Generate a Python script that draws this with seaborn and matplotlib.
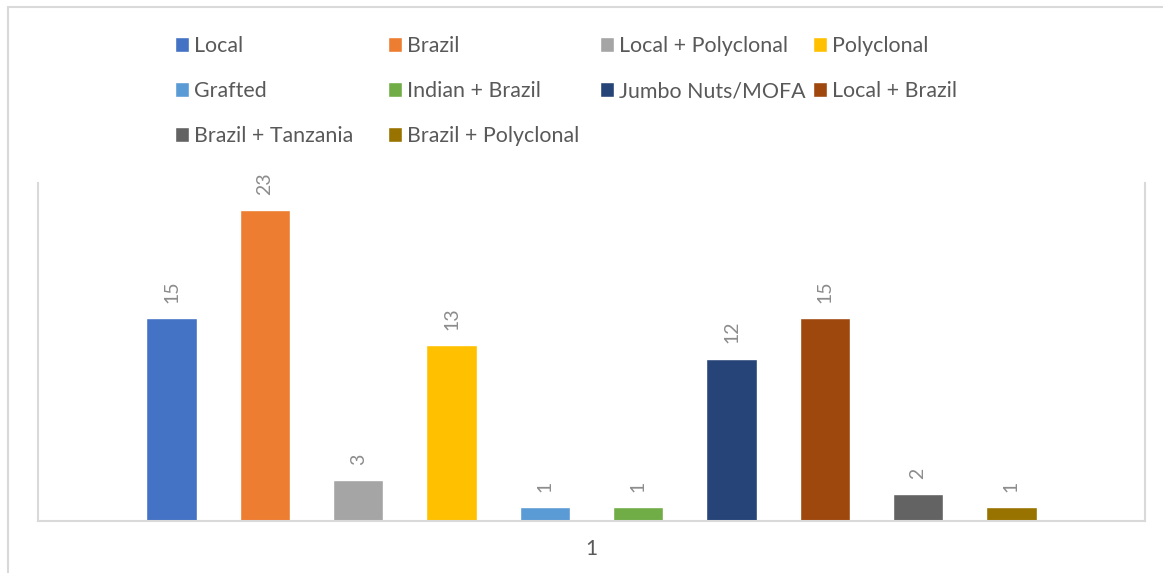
import matplotlib
matplotlib.use("Agg")
import matplotlib.pyplot as plt
from matplotlib.lines import Line2D
import seaborn as sns
import pandas as pd

# Cashew planting material used by respondents (count of farmers)
varieties = ["Local", "Brazil", "Local + Polyclonal", "Polyclonal", "Grafted",
             "Indian + Brazil", "Jumbo Nuts/MOFA", "Local + Brazil",
             "Brazil + Tanzania", "Brazil + Polyclonal"]
counts = [15, 23, 3, 13, 1, 1, 12, 15, 2, 1]
category = "1"
colors = ["#4472C4", "#ED7D31", "#A5A5A5", "#FFC000", "#5B9BD5",
          "#70AD47", "#264478", "#9E480E", "#636363", "#997300"]

W, H, DPI = 1163, 573, 100
sns.set_theme(style="white")
plt.rcParams["font.family"] = ["Lato", "DejaVu Sans"]

df = pd.DataFrame({"group": [category] * len(varieties),
                   "variety": varieties, "count": counts})

fig = plt.figure(figsize=(W / DPI, H / DPI), dpi=DPI)
ax = fig.add_axes([38 / W, 1 - 521 / H, (1145 - 38) / W, (521 - 183) / H])

sns.barplot(data=df, x="group", y="count", hue="variety", hue_order=varieties,
            palette=colors, saturation=1, width=0.843, gap=0.46,
            errorbar=None, ax=ax)

ax.set_ylim(0, 25)
ax.set_xlim(-0.5, 0.5)
ax.set_xlabel("")
ax.set_ylabel("")
ax.set_yticks([])
ax.tick_params(axis="x", length=0, pad=13, labelsize=15, labelcolor="#595959")

for c in ax.containers:
    ax.bar_label(c, rotation=90, padding=11, fontsize=14, color="#8c8c8c")

grid_col = "#d9d9d9"
ax.spines["top"].set_visible(False)
for s in ("left", "right", "bottom"):
    ax.spines[s].set_color(grid_col)
    ax.spines[s].set_linewidth(1.5)

# legend laid out in four evenly spaced columns, filled row by row
leg = ax.get_legend()
handles = list(leg.legend_handles)
labels = [t.get_text() for t in leg.get_texts()]
leg.remove()
col_x = [175, 388, 600, 813]
for j, x in enumerate(col_x):
    idx = list(range(j, len(labels), 4))
    fig.legend([handles[i] for i in idx], [labels[i] for i in idx],
               loc="upper left", bbox_to_anchor=(x / W, 1 - 36 / H),
               frameon=False, borderpad=0, borderaxespad=0,
               handlelength=0.65, handleheight=0.65, handletextpad=0.25,
               labelspacing=1.17, fontsize=15.4, labelcolor="#595959")

# outer chart border
fig.add_artist(Line2D([8 / W, 8 / W], [0, 1 - 7 / H], transform=fig.transFigure,
                      color=grid_col, lw=1.5))
fig.add_artist(Line2D([8 / W, 1], [1 - 7 / H, 1 - 7 / H], transform=fig.transFigure,
                      color=grid_col, lw=1.5))

fig.savefig("out.png", dpi=DPI)
